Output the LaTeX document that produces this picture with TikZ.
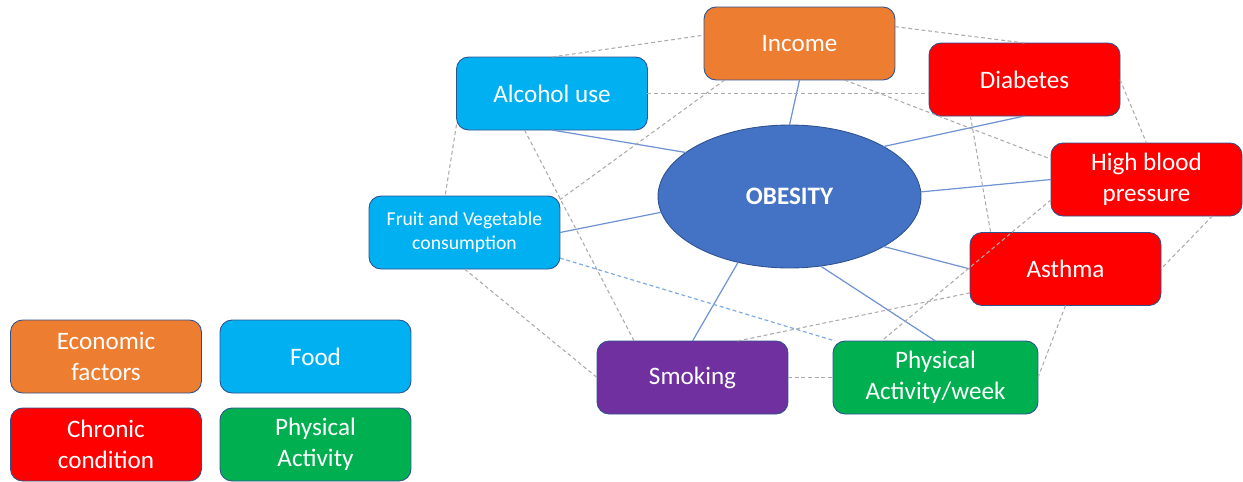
\documentclass[tikz,border=0pt]{standalone}
\usepackage{fontspec}
\setmainfont{Carlito}
\usepackage{tikz}
\usetikzlibrary{shapes.geometric,calc}

\definecolor{econ}{HTML}{ED7D31}
\definecolor{food}{HTML}{00B0F0}
\definecolor{chronic}{HTML}{FF0000}
\definecolor{phys}{HTML}{00B050}
\definecolor{smoke}{HTML}{7030A0}
\definecolor{obese}{HTML}{4472C4}
\definecolor{rim}{HTML}{2F528F}
\definecolor{tiecol}{HTML}{7094D2}
\definecolor{weakcol}{HTML}{ABABAB}
\definecolor{weakblue}{HTML}{80AEDE}

\begin{document}
\begin{tikzpicture}[x=0.02cm, y=-0.02cm,
		factor/.style={rectangle, rounded corners=0.24cm, draw=rim, line width=0.5pt, text=white, align=center,
			minimum width=3.82cm, minimum height=1.46cm, inner sep=0pt, outer sep=0pt,
			font=\fontsize{14.3}{17.6}\selectfont},
		tie/.style={draw=tiecol, line width=0.7pt},
		weaktie/.style={draw=weakcol, line width=0.6pt, dash pattern=on 2.2pt off 1.6pt},
		bluetie/.style={draw=weakblue, line width=0.7pt, dash pattern=on 2.2pt off 1.6pt}]
			\useasboundingbox (0,0) rectangle (1243,481);
			% Nodes
			\node[ellipse, fill=obese, draw=rim, line width=0.5pt, minimum width=5.26cm, minimum height=2.86cm,
				inner sep=0pt, outer sep=0pt, text=white, font=\fontsize{14.3}{17.6}\selectfont\bfseries] (obesity) at (789.5,196.5) {OBESITY};
			\node[factor, fill=econ] (income) at (799.5,43.5) {Income};
			\node[factor, fill=food] (alcohol) at (552,93.5) {Alcohol use};
			\node[factor, fill=chronic] (diabetes) at (1024.5,79.5) {Diabetes};
			\node[factor, fill=chronic] (bp) at (1146.5,179.5) {High blood\\pressure};
			\node[factor, fill=food, font=\fontsize{11.2}{13.6}\selectfont] (fruit) at (464.5,232.5) {Fruit and Vegetable\\consumption};
			\node[factor, fill=chronic] (asthma) at (1065.5,269) {Asthma};
			\node[factor, fill=smoke] (smoking) at (692.5,377.5) {Smoking};
			\node[factor, fill=phys, minimum width=4.1cm] (activity) at (935.5,377.5) {Physical\\Activity/week};

			% Legend
			\node[factor, fill=econ] (keyecon) at (106,356.5) {Economic\\factors};
			\node[factor, fill=food] (keyfood) at (315.5,356.5) {Food};
			\node[factor, fill=chronic] (keychronic) at (106,444.5) {Chronic\\condition};
			\node[factor, fill=phys] (keyphys) at (315.5,444.5) {Physical\\Activity};

			% Links to obesity
			\draw[tie] (obesity.90) -- (income.south);
			\draw[tie] (obesity.157) -- (alcohol.south);
			\draw[tie] (obesity.28) -- (diabetes.south);
			\draw[tie] (obesity.2) -- (bp.west);
			\draw[tie] (obesity.-173) -- (fruit.east);
			\draw[tie] (obesity.-28) -- (asthma.west);
			\draw[tie] (obesity.-66) -- (activity.north);
			\draw[tie] (obesity.-128) -- (smoking.north);

			% Links between factors
			\draw[weaktie] (alcohol.north) -- (income.175);
			\draw[weaktie] (income.10) -- (diabetes.north);
			\draw[weaktie] (alcohol.east) -- (alcohol.east -| diabetes.west);
			\draw[weaktie] (income.-154) -- (fruit.19);
			\draw[weaktie] (income.-39) -- (bp.168);
			\draw[weaktie] (diabetes.east) -- (bp.north);
			\draw[weaktie] (diabetes.-146) -- (asthma.154);
			\draw[weaktie] (bp.-168) -- (activity.146);
			\draw[weaktie] (bp.-29) -- (asthma.east);
			\draw[weaktie] (asthma.south) -- (activity.east);
			\draw[weaktie] (asthma.-166) -- (smoking.39);
			\draw[weaktie] (smoking.east) -- (activity.west);
			\draw[weaktie] (fruit.south) -- (smoking.west);
			\draw[weaktie] (alcohol.-127) -- (smoking.148);
			\draw[weaktie] (alcohol.-162) -- (fruit.118);
			\draw[bluetie] (fruit.-15) -- (activity.160);
		\end{tikzpicture}
\end{document}
